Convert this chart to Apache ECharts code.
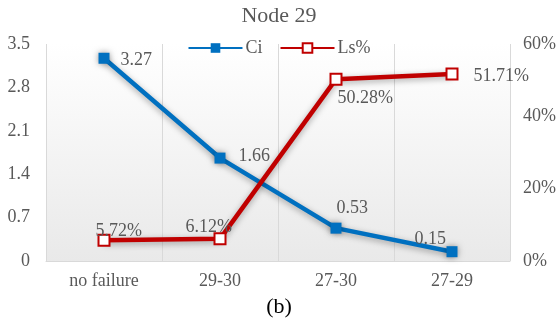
<!DOCTYPE html>
<html>
<head>
<meta charset="utf-8">
<script src="https://cdn.jsdelivr.net/npm/echarts@6/dist/echarts.min.js"></script>
<style>
  html, body { margin: 0; padding: 0; background: #fff; }
  #chart { width: 558px; height: 326px; }
</style>
</head>
<body>
<div id="chart"></div>
<script>
var categories = ['no failure', '29-30', '27-30', '27-29'];
var ciValues = [3.27, 1.66, 0.53, 0.15];
var lsValues = [5.72, 6.12, 50.28, 51.71];
var leftTicks = [0, 0.7, 1.4, 2.1, 2.8, 3.5];
var rightTicks = [0, 20, 40, 60];

var serif = '"Liberation Serif", "Times New Roman", serif';
var txtColor = '#595959';

var dom = document.getElementById('chart');
var myChart = echarts.init(dom);

// label nudges per point, like the original
var ciLabelPos = [[6, 2], [8, -2], [-10, -20], [-48, -12]];
var lsLabelPos = [[-20, -9], [-46, -12], [-10, 19], [10, 2]];

var option = {
	animation: false,
	title: [
		{ text: 'Node 29', left: 'center', top: 0,
		  textStyle: { fontFamily: serif, fontSize: 22, fontWeight: 'normal', color: txtColor } },
		{ text: '(b)', left: 'center', top: 291,
		  textStyle: { fontFamily: serif, fontSize: 22, fontWeight: 'normal', color: '#000' } }
	],
	legend: {
		top: 34, left: 'center', itemGap: 17, itemWidth: 54, itemHeight: 12,
		textStyle: { fontFamily: serif, fontSize: 18, color: txtColor, padding: [0, 0, 0, -2] },
		data: ['Ci', 'Ls%']
	},
	grid: {
		left: 46, right: 48, top: 44, bottom: 65, show: true, borderWidth: 0,
		outerBoundsMode: 'none', containLabel: false,
		backgroundColor: new echarts.graphic.LinearGradient(0, 0, 0, 1, [
			{ offset: 0, color: '#ffffff' },
			{ offset: 1, color: '#e9e9e9' }
		])
	},
	xAxis: {
		type: 'category',
		data: categories,
		boundaryGap: true,
		axisLine: { lineStyle: { color: '#d9d9d9', width: 1 } },
		axisTick: { show: false },
		axisLabel: { fontFamily: serif, fontSize: 18, color: txtColor, margin: 11 },
		splitLine: { show: true, interval: function (i) { return true; }, lineStyle: { color: '#d9d9d9' } }
	},
	yAxis: [
		{
			type: 'value', min: 0, max: 3.5, interval: 0.7,
			axisLine: { show: false }, axisTick: { show: false }, splitLine: { show: false },
			axisLabel: { fontFamily: serif, fontSize: 18, color: txtColor, margin: 16,
				formatter: function (v) { return leftTicks.indexOf(+v.toFixed(1)) >= 0 ? String(+v.toFixed(1)) : ''; } }
		},
		{
			type: 'value', min: 0, max: 60, interval: 20,
			axisLine: { show: false }, axisTick: { show: false }, splitLine: { show: false },
			axisLabel: { fontFamily: serif, fontSize: 18, color: txtColor, margin: 13,
				formatter: function (v) { return rightTicks.indexOf(v) >= 0 ? v + '%' : ''; } }
		}
	],
	series: [
		{
			name: 'Ci', type: 'line', yAxisIndex: 0,
			data: ciValues.map(function (v, i) {
				return { value: v, label: { offset: ciLabelPos[i] } };
			}),
			symbol: 'rect', symbolSize: 11,
			itemStyle: { color: '#0070C0', shadowColor: 'rgba(0,0,0,0.4)', shadowBlur: 6 },
			lineStyle: { color: '#0070C0', width: 4.5, shadowColor: 'rgba(0,0,0,0.35)', shadowBlur: 6, shadowOffsetY: 2 },
			label: { show: true, position: 'right', fontFamily: serif, fontSize: 18, color: txtColor,
				formatter: function (p) { return p.value.toFixed(2); } },
			z: 3
		},
		{
			name: 'Ls%', type: 'line', yAxisIndex: 1,
			data: lsValues.map(function (v, i) {
				return { value: v, label: { offset: lsLabelPos[i] } };
			}),
			symbol: 'rect', symbolSize: 11,
			itemStyle: { color: '#ffffff', borderColor: '#C00000', borderWidth: 2 },
			lineStyle: { color: '#C00000', width: 4.5, shadowColor: 'rgba(0,0,0,0.35)', shadowBlur: 6, shadowOffsetY: 2 },
			label: { show: true, position: 'right', fontFamily: serif, fontSize: 18, color: txtColor,
				formatter: function (p) { return p.value.toFixed(2) + '%'; } },
			z: 4
		}
	]
};
myChart.setOption(option);
window.addEventListener('resize', myChart.resize);
</script>
</body>
</html>
